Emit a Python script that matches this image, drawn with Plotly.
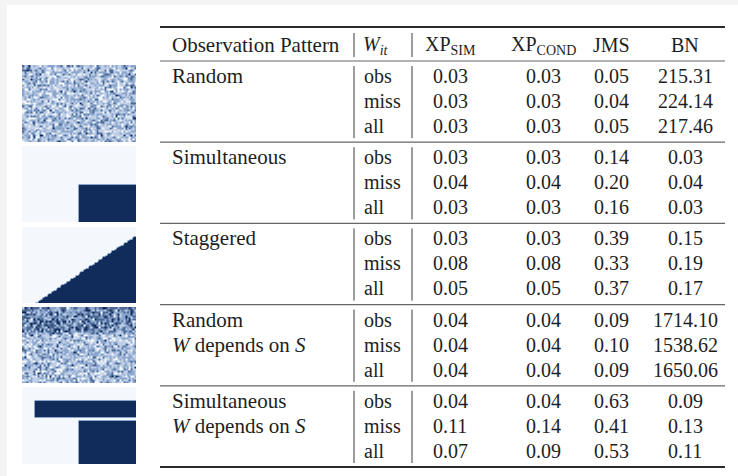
import numpy as np
import plotly.graph_objects as go

# ---- table content -------------------------------------------------------
patterns = ["Random", "Simultaneous", "Staggered", "Random", "Simultaneous"]
pattern_notes = ["", "", "", "<i>W</i> depends on <i>S</i>", "<i>W</i> depends on <i>S</i>"]
subsets = ["obs", "miss", "all"]
columns = ["XP<sub>SIM</sub>", "XP<sub>COND</sub>", "JMS", "BN"]

xp_sim = [0.03, 0.03, 0.03, 0.03, 0.04, 0.03, 0.03, 0.08, 0.05,
          0.04, 0.04, 0.04, 0.04, 0.11, 0.07]
xp_cond = [0.03, 0.03, 0.03, 0.03, 0.04, 0.03, 0.03, 0.08, 0.05,
           0.04, 0.04, 0.04, 0.04, 0.14, 0.09]
jms = [0.05, 0.04, 0.05, 0.14, 0.20, 0.16, 0.39, 0.33, 0.37,
       0.09, 0.10, 0.09, 0.63, 0.41, 0.53]
bn = [215.31, 224.14, 217.46, 0.03, 0.04, 0.03, 0.15, 0.19, 0.17,
      1714.10, 1538.62, 1650.06, 0.09, 0.13, 0.11]

# ---- treatment assignment matrices shown beside each pattern ---------------
N_UNITS, N_PERIODS = 52, 78          # structured designs
N_RAND, T_RAND, FINE = 40, 60, 2     # random designs, simulated on a finer grid
P_RANDOM = 0.36           # share of treated cells, random assignment
P_RANDOM_HIGH_S = 0.62    # share treated among high-S units
HIGH_S_SHARE = 0.34       # top share of units with high S
SIM_START = 0.49          # simultaneous adoption time (share of periods)
SIM_TREATED_FROM = 0.50   # units treated in simultaneous design (share)
STAG_FIRST, STAG_LAST = 0.10, 0.11  # staggered: never-treated share, earliest start
SIM_S_EARLY = (0.18, 0.38, 0.10)    # early adopters: unit range, start time
SIM_S_LATE = (0.42, 1.00, 0.49)     # late adopters: unit range, start time

rng = np.random.default_rng(11)
unit_pos = (np.arange(N_UNITS) + 0.5) / N_UNITS
time_pos = (np.arange(N_PERIODS) + 0.5) / N_PERIODS
fine_units = (np.arange(N_RAND * FINE) + 0.5) / (N_RAND * FINE)


def shrink(w):
    """Average FINE x FINE blocks, as an image viewer does when downscaling."""
    return w.reshape(N_RAND, FINE, T_RAND, FINE).mean(axis=(1, 3))


w_random = shrink((rng.random((N_RAND * FINE, T_RAND * FINE)) < P_RANDOM)
                  .astype(float))

w_sim = ((unit_pos[:, None] >= SIM_TREATED_FROM)
         & (time_pos[None, :] >= SIM_START)).astype(float)

stag_start = 1 - (unit_pos - STAG_FIRST) / (1 - STAG_FIRST) * (1 - STAG_LAST)
w_stag = (time_pos[None, :] >= stag_start[:, None]).astype(float)

p_by_unit = np.where(fine_units < HIGH_S_SHARE, P_RANDOM_HIGH_S, P_RANDOM)
w_random_s = shrink((rng.random((N_RAND * FINE, T_RAND * FINE))
                     < p_by_unit[:, None]).astype(float))

w_sim_s = np.zeros((N_UNITS, N_PERIODS))
for lo, hi, start in (SIM_S_EARLY, SIM_S_LATE):
    rows = (unit_pos >= lo) & (unit_pos < hi)
    w_sim_s[np.ix_(rows, time_pos >= start)] = 1.0

matrices = [w_random, w_sim, w_stag, w_random_s, w_sim_s]

# ---- page geometry (pixels) ------------------------------------------------
W_PX, H_PX = 738, 476
FONT = "Liberation Serif"
FS, FS_LABEL = 20, 21
INK = "#1e1e1e"


def px(x):
    return x / W_PX


def py(y):
    return 1 - y / H_PX


TABLE_L, TABLE_R = 160, 725
TOP_RULE, HEAD_RULE = 27, 61
GROUP_H = 81.2
ROW_OFF = [15, 40, 65]
VLINES = [354, 412]
LABEL_X, SUBSET_X = 172, 363
COL_X = [450, 543, 611, 685]
IMG_X = (22, 136)
IMG_Y = [(65, 142), (146, 222), (227, 303), (307, 383), (387, 464)]

fig = go.Figure()

# pattern thumbnails, each on its own pair of hidden axes
blues = [[0, "#f4f8fd"], [0.5, "#8ba6cd"], [1, "#112c5b"]]
for k, w in enumerate(matrices):
    sfx = "" if k == 0 else str(k + 1)
    n_rows, n_cols = w.shape
    fig.add_trace(go.Heatmap(z=w, colorscale=blues, zmin=0, zmax=1,
                             showscale=False, zsmooth="best", hoverinfo="skip",
                             xaxis="x" + sfx, yaxis="y" + sfx))
    y0, y1 = IMG_Y[k]
    fig.layout["xaxis" + sfx] = dict(domain=[px(IMG_X[0]), px(IMG_X[1])],
                                     anchor="y" + sfx, visible=False,
                                     range=[-0.5, n_cols - 0.5])
    fig.layout["yaxis" + sfx] = dict(domain=[py(y1), py(y0)],
                                     anchor="x" + sfx, visible=False,
                                     range=[n_rows - 0.5, -0.5])

shapes = [dict(type="rect", xref="paper", yref="paper", x0=px(7), x1=1,
               y0=0, y1=py(5), fillcolor="white", line_width=0, layer="below")]


def hrule(y, width, color):
    shapes.append(dict(type="line", xref="paper", yref="paper",
                       x0=px(TABLE_L), x1=px(TABLE_R), y0=py(y), y1=py(y),
                       line=dict(color=color, width=width)))


def vrule(x, y0, y1):
    shapes.append(dict(type="line", xref="paper", yref="paper",
                       x0=px(x), x1=px(x), y0=py(y0), y1=py(y1),
                       line=dict(color="#3a3a3a", width=1)))


hrule(TOP_RULE, 1.8, "#2a2a2a")
hrule(HEAD_RULE, 1.2, "#666666")
group_tops = [HEAD_RULE + GROUP_H * g for g in range(len(patterns))]
for g in range(1, len(patterns)):
    hrule(group_tops[g], 1.2, "#666666")
hrule(HEAD_RULE + GROUP_H * len(patterns), 1.8, "#2a2a2a")

for x in VLINES:
    vrule(x, TOP_RULE + 6, HEAD_RULE - 4)
    for g in range(len(patterns)):
        vrule(x, group_tops[g] + 5, group_tops[g] + GROUP_H - 4)

annotations = []


def text(s, x, y, anchor="center", size=FS):
    annotations.append(dict(text=s, x=px(x), y=py(y), xref="paper", yref="paper",
                            xanchor=anchor, yanchor="middle", showarrow=False,
                            font=dict(family=FONT, size=size, color=INK)))


head_y = (TOP_RULE + HEAD_RULE) / 2 + 1
text("Observation Pattern", LABEL_X - 2, head_y, "left", FS_LABEL)
text("<i>W</i><sub><i>it</i></sub>", SUBSET_X - 2, head_y, "left")
for cx, name in zip(COL_X, columns):
    text(name, cx, head_y)

series = [xp_sim, xp_cond, jms, bn]
for g, name in enumerate(patterns):
    top = group_tops[g]
    text(name, LABEL_X - 2, top + ROW_OFF[0], "left", FS_LABEL)
    if pattern_notes[g]:
        text(pattern_notes[g], LABEL_X - 2, top + ROW_OFF[1], "left", FS_LABEL)
    for r, sub in enumerate(subsets):
        y = top + ROW_OFF[r]
        text(sub, SUBSET_X - 1, y, "left")
        i = g * len(subsets) + r
        for cx, vals in zip(COL_X, series):
            text(f"{vals[i]:.2f}", cx, y)

fig.update_layout(width=W_PX, height=H_PX, margin=dict(l=0, r=0, t=0, b=0),
                  paper_bgcolor="#f4f4f4", plot_bgcolor="rgba(0,0,0,0)",
                  shapes=shapes, annotations=annotations, showlegend=False)

fig.write_html("out.html")
